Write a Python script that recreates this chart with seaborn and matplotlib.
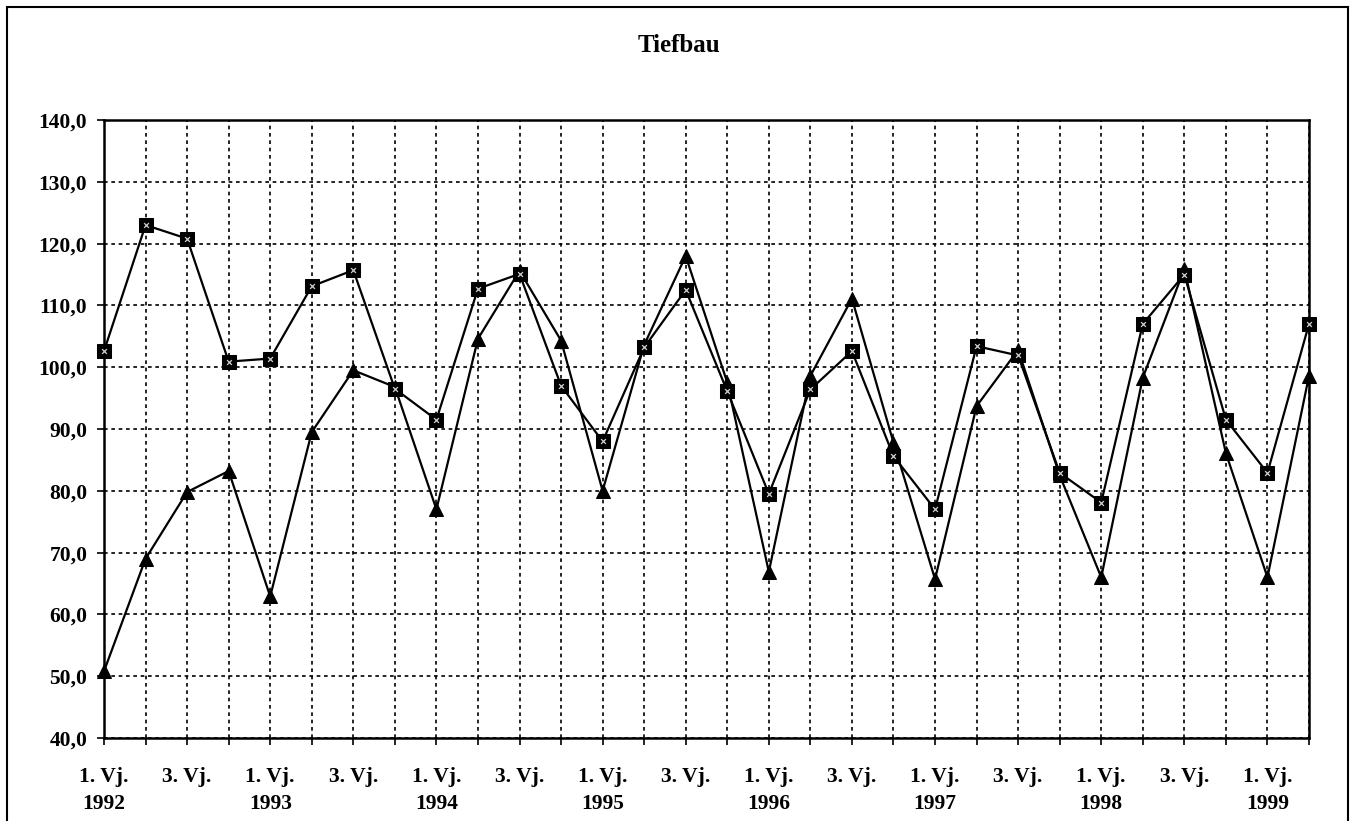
import matplotlib
matplotlib.use("Agg")
import matplotlib.pyplot as plt
import seaborn as sns
import pandas as pd
from matplotlib.patches import Rectangle

# ---- data ----
years = [1992, 1993, 1994, 1995, 1996, 1997, 1998, 1999]
quarters = [f"{q}. Vj. {y}" for y in years for q in (1, 2, 3, 4)][:30]
series_squares = [102.6, 123.0, 120.8, 100.9, 101.4, 113.1, 115.7, 96.5, 91.5, 112.7,
                  115.1, 97.0, 88.0, 103.2, 112.5, 96.1, 79.5, 96.4, 102.6, 85.6,
                  77.0, 103.4, 101.9, 82.9, 78.1, 107.0, 115.0, 91.5, 82.9, 107.0]
series_triangles = [50.8, 69.0, 79.8, 83.2, 62.9, 89.5, 99.5, 96.8, 77.0, 104.6,
                    115.6, 104.3, 80.0, 103.6, 118.0, 97.5, 66.9, 98.6, 111.1, 87.8,
                    65.7, 93.7, 102.8, 82.5, 66.0, 98.3, 115.9, 86.1, 66.0, 98.6]
y_ticks = [40, 50, 60, 70, 80, 90, 100, 110, 120, 130, 140]
x_ticklabels = []
for q in quarters:
    parts = q.split(" ")
    qn, yr = parts[0], parts[-1]
    if qn == "1.":
        x_ticklabels.append(f"1. Vj.\n{yr}")
    elif qn == "3.":
        x_ticklabels.append("3. Vj.")
    else:
        x_ticklabels.append("")

n = len(quarters)
df = pd.DataFrame({
    "idx": list(range(n)) * 2,
    "value": series_squares + series_triangles,
    "series": ["A"] * n + ["B"] * n,
})

sns.set_theme(style="white")
plt.rcParams["font.family"] = ["Liberation Serif", "DejaVu Serif"]
plt.rcParams["text.color"] = "black"
plt.rcParams["xtick.color"] = "black"
plt.rcParams["ytick.color"] = "black"
plt.rcParams["xtick.labelcolor"] = "black"
plt.rcParams["ytick.labelcolor"] = "black"

fig = plt.figure(figsize=(13.56, 8.21), dpi=100)
ax = fig.add_axes([104 / 1356, 1 - 738 / 821, (1309 - 104) / 1356, (738 - 120) / 821])

sns.lineplot(data=df, x="idx", y="value", style="series",
             markers={"A": "s", "B": "^"}, dashes=False, color="black",
             linewidth=1.6, markersize=10, markeredgecolor="black",
             markerfacecolor="black", legend=False, ax=ax, zorder=3,
             clip_on=False)
# light speckle inside square markers
sns.scatterplot(data=df[df["series"] == "A"], x="idx", y="value",
                marker="x", color="#d0d0d0", s=12, linewidth=0.9,
                legend=False, ax=ax, zorder=4, clip_on=False)

ax.set_xlim(0, n - 1)
ax.set_ylim(40, 140)
ax.set_yticks(y_ticks)
ax.set_yticklabels([f"{v:.1f}".replace(".", ",") for v in y_ticks],
                   fontsize=15.5, fontweight="bold", color="black")
ax.set_xticks(range(n))
ax.set_xticklabels(x_ticklabels, fontsize=15.5, fontweight="bold",
                   linespacing=1.45, color="black")
ax.set_xlabel("")
ax.set_ylabel("")

ax.grid(True, color="black", linestyle=(0, (2.2, 2.2)), linewidth=1.2)
ax.set_axisbelow(True)
for s in ax.spines.values():
    s.set_visible(True)
    s.set_color("black")
    s.set_linewidth(1.8)
ax.tick_params(axis="both", direction="out", length=5, width=1.2, color="black",
               left=True, bottom=True)
ax.tick_params(axis="y", pad=7)
ax.tick_params(axis="x", pad=16)

fig.text(679 / 1356, 1 - 45 / 821, "Tiefbau", ha="center", va="center",
         fontsize=18, fontweight="bold", color="black")

# outer frame
fig.patches.append(Rectangle((7 / 1356, -0.05), (1348 - 7) / 1356, 1.05 - 7 / 821,
                             transform=fig.transFigure, fill=False,
                             edgecolor="black", linewidth=1.5))

fig.savefig("out.png", dpi=100)
